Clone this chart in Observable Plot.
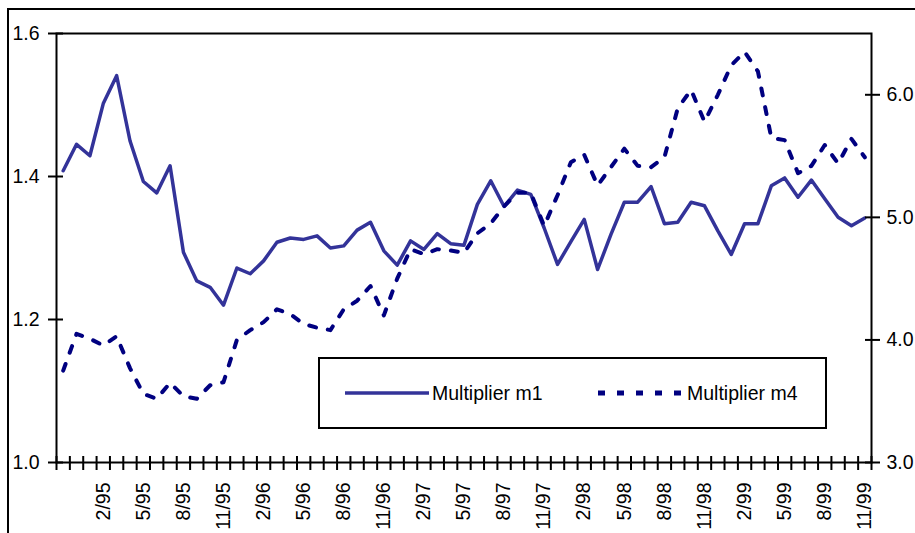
<!DOCTYPE html>
<html><head><meta charset="utf-8">
<script src="https://cdn.jsdelivr.net/npm/d3@7"></script>
<script src="https://cdn.jsdelivr.net/npm/@observablehq/plot@0.6"></script>
<style>
html,body{margin:0;padding:0;background:#fff;overflow:hidden}
#wrap{position:relative;width:915px;height:533px;overflow:hidden;font-family:"Liberation Sans",Arial,sans-serif;background:#fff}
#outer{position:absolute;left:7px;top:8px;width:1000px;height:1000px;border-left:2px solid #000;border-top:2px solid #000;box-sizing:border-box}
#chart{position:absolute;left:0;top:0}
#legend{position:absolute;left:318px;top:357px;width:509px;height:72px;border:2px solid #000;background:#fff;box-sizing:border-box}
#legend svg{position:absolute;left:0;top:0}
#legend .lbl{position:absolute;top:22px;font-size:19.5px;line-height:24px;color:#000;white-space:nowrap}
</style>
</head><body>
<div id="wrap">
  <div id="outer"></div>
  <div id="chart"></div>
  <div id="legend">
    <svg width="505" height="68">
      <line x1="25" x2="109" y1="34" y2="34" stroke="#333399" stroke-width="3.5"/>
      <line x1="278" x2="366" y1="34" y2="34" stroke="#000080" stroke-width="5" stroke-dasharray="7,12"/>
    </svg>
    <div class="lbl" style="left:112px">Multiplier m1</div>
    <div class="lbl" style="left:367px">Multiplier m4</div>
  </div>
</div>
<script>
// Monthly categories: 11/94 .. 11/99
const startYear = 1994, startMonth = 11, nMonths = 61;
const months = [];
for (let k = 0; k < nMonths; k++) {
  const m = ((startMonth - 1 + k) % 12) + 1;
  const y = (startYear + Math.floor((startMonth - 1 + k) / 12)) % 100;
  months.push(m + "/" + String(y).padStart(2, "0"));
}

// Multiplier m1 (left axis)
const m1 = [
  1.408, 1.445, 1.429, 1.502, 1.541, 1.450, 1.393, 1.377, 1.415, 1.294,
  1.254, 1.245, 1.220, 1.272, 1.264, 1.282, 1.308, 1.314, 1.312, 1.317,
  1.300, 1.303, 1.325, 1.336, 1.296, 1.276, 1.310, 1.298, 1.320, 1.306,
  1.304, 1.361, 1.394, 1.358, 1.381, 1.375, 1.328, 1.277, 1.309, 1.340,
  1.270, 1.319, 1.364, 1.364, 1.386, 1.334, 1.336, 1.364, 1.359, 1.324,
  1.291, 1.334, 1.334, 1.387, 1.398, 1.371, 1.395, 1.369, 1.343, 1.331,
  1.342
];

// Multiplier m4 (right axis)
const m4 = [
  3.75, 4.05, 4.01, 3.955, 4.03, 3.77, 3.56, 3.52, 3.65, 3.54,
  3.52, 3.63, 3.655, 4.00, 4.08, 4.145, 4.25, 4.21, 4.13, 4.10,
  4.08, 4.25, 4.32, 4.44, 4.20, 4.50, 4.74, 4.70, 4.74, 4.73,
  4.71, 4.87, 4.95, 5.09, 5.20, 5.20, 4.93, 5.18, 5.45, 5.51,
  5.26, 5.41, 5.56, 5.42, 5.41, 5.49, 5.89, 6.04, 5.78, 6.00,
  6.24, 6.35, 6.19, 5.65, 5.63, 5.36, 5.42, 5.59, 5.44, 5.64,
  5.49
];

const xTickLabels = ["2/95","5/95","8/95","11/95","2/96","5/96","8/96","11/96","2/97","5/97",
  "8/97","11/97","2/98","5/98","8/98","11/98","2/99","5/99","8/99","11/99"];
const leftTicks = [1.0, 1.2, 1.4, 1.6];
const rightTicks = [3.0, 4.0, 5.0, 6.0];
const leftDomain = [1.0, 1.6];
const rightDomain = [3.0, 6.5];

const toLeft = v => leftDomain[0] + (v - rightDomain[0]) * (leftDomain[1] - leftDomain[0]) / (rightDomain[1] - rightDomain[0]);
const fromLeft = v => rightDomain[0] + (v - leftDomain[0]) * (rightDomain[1] - rightDomain[0]) / (leftDomain[1] - leftDomain[0]);

const data = months.map((m, i) => ({i, month: m, m1: m1[i], m4: m4[i]}));
const boundaries = d3.range(months.length + 1).map(k => k - 0.5);
const labelPos = xTickLabels.map(l => months.indexOf(l));

const chart = Plot.plot({
  width: 915, height: 533,
  marginLeft: 56, marginRight: 44, marginTop: 33, marginBottom: 71,
  style: {fontFamily: "'Liberation Sans', Arial, sans-serif", fontSize: "19.5px", color: "#000", background: "transparent"},
  x: {type: "linear", domain: [-0.5, months.length - 0.5], label: null},
  y: {domain: leftDomain, label: null},
  marks: [
    Plot.frame({stroke: "#000", strokeWidth: 2}),
    Plot.lineY(data, {x: "i", y: "m1", stroke: "#333399", strokeWidth: 3.5}),
    Plot.lineY(data, {x: "i", y: d => toLeft(d.m4), stroke: "#000080", strokeWidth: 4, strokeDasharray: "7,12"}),
    Plot.axisX({ticks: boundaries, tickSize: 14, dy: -6, tickFormat: () => "", strokeWidth: 2, label: null}),
    Plot.axisX({ticks: labelPos, tickSize: 0, tickPadding: 20, tickRotate: -90, tickFormat: i => months[i], label: null}),
    Plot.axisY({ticks: leftTicks, tickSize: 15, dx: 7, tickFormat: () => "", strokeWidth: 2, label: null}),
    Plot.axisY({ticks: leftTicks, tickSize: 0, tickPadding: 17, tickFormat: d3.format(".1f"), label: null}),
    Plot.axisY({anchor: "right", ticks: rightTicks.map(toLeft), tickSize: 15, dx: -7, tickFormat: () => "", strokeWidth: 2, label: null}),
    Plot.axisY({anchor: "right", ticks: rightTicks.map(toLeft), tickSize: 0, tickPadding: 15, tickFormat: d => fromLeft(d).toFixed(1), label: null})
  ]
});
document.getElementById("chart").appendChild(chart);
</script>
</body></html>
